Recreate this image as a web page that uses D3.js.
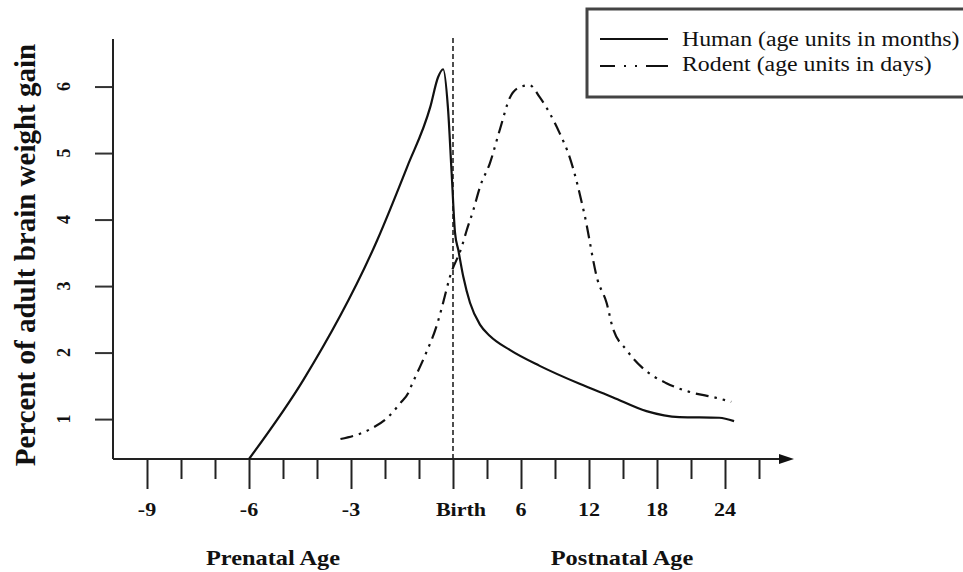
<!DOCTYPE html>
<html>
<head>
<meta charset="utf-8">
<script src="https://cdn.jsdelivr.net/npm/d3@7"></script>
<style>
  body { margin: 0; background: #fff; }
  text { font-family: "Liberation Serif", "Times New Roman", serif; fill: #111; }
</style>
</head>
<body>
<div id="chart"></div>
<script>
// axis positions: prenatal in months (-9..0), postnatal ticks every 3 units up to 27
var xTicks = [-9, -8, -7, -6, -5, -4, -3, -2, -1, 0, 3, 6, 9, 12, 15, 18, 21, 24, 27];
var majorTicks = [-9, -6, -3, 0, 6, 12, 18, 24];
var tickLabels = ["-9", "-6", "-3", "Birth", "6", "12", "18", "24"];
var yTicks = [1, 2, 3, 4, 5, 6];

// human curve (age units in months)
var humanAge  = [-6, -4.4, -2.23, -1.35, -0.67, -0.44, -0.29, -0.15, -0.04, 0.18, 0.47, 0.91, 1.5, 2.38, 3.26, 5.01, 7.65, 11.17, 14.08, 17.07, 19.97, 23.49, 24.8];
var humanGain = [0.4, 1.59, 3.69, 4.79, 5.69, 6.14, 6.26, 5.69, 4.7, 3.8, 3.54, 3.14, 2.75, 2.42, 2.25, 2.04, 1.8, 1.53, 1.33, 1.12, 1.03, 1.02, 0.97];

// rodent curve (age units in days)
var rodentAge  = [-3.31, -2.43, -1.91, -1.55, -1.32, -1.2, -0.82, -0.47, -0.29, -0.09, 0.77, 1.21, 1.79, 2.38, 3.26, 4.13, 5.01, 5.89, 6.77, 7.65, 8.53, 9.41, 10.29, 11.61, 12.76, 13.55, 14.08, 15.31, 16.72, 18.83, 20.85, 23.23, 24.55];
var rodentGain = [0.7, 0.85, 1.03, 1.24, 1.39, 1.53, 1.96, 2.42, 2.75, 3.14, 3.59, 3.84, 4.14, 4.49, 4.85, 5.35, 5.83, 5.99, 6.02, 5.84, 5.6, 5.3, 4.94, 4.07, 3.09, 2.75, 2.38, 2.04, 1.77, 1.54, 1.41, 1.32, 1.26];

var width = 963, height = 572;
// the original figure's lettering is a little wider than the font
var stretch = 1.16;

var svg = d3.select("#chart")
    .append("svg")
    .attr("width", width)
    .attr("height", height);

svg.append("rect").attr("width", width).attr("height", height).attr("fill", "#fff");

var x = d3.scaleLinear()
    .domain([-9, 0, 27])
    .range([147, 453, 759]);

var y = d3.scaleLinear()
    .domain([0.4, 6.7])
    .range([459, 40]);

var originX = 113;

// x axis
var xAxis = svg.append("g")
    .attr("transform", "translate(0," + y(0.4) + ")")
    .call(d3.axisBottom(x).tickValues(xTicks).tickSize(20).tickFormat(""));
xAxis.select(".domain").remove();
xAxis.selectAll(".tick line")
    .attr("stroke", "#222")
    .attr("stroke-width", 2)
    .attr("y2", function(d) { return majorTicks.indexOf(d) >= 0 ? 30 : 20; });

xAxis.append("line")
    .attr("x1", originX).attr("x2", 781)
    .attr("y1", 0).attr("y2", 0)
    .attr("stroke", "#222").attr("stroke-width", 2);
xAxis.append("path")
    .attr("d", "M779,-5L794,0L779,5Z")
    .attr("fill", "#111");

svg.append("g")
    .selectAll("text")
    .data(majorTicks)
    .enter()
    .append("text")
    .attr("transform", function(d) {
        return "translate(" + (x(d) + (d === 0 ? 8 : 0)) + ",516) scale(" + stretch + ",1)";
    })
    .attr("text-anchor", "middle")
    .attr("font-weight", "bold")
    .attr("font-size", 19)
    .text(function(d, i) { return tickLabels[i]; });

// y axis
var yAxis = svg.append("g")
    .attr("transform", "translate(" + originX + ",0)")
    .call(d3.axisLeft(y).tickValues(yTicks).tickSize(18).tickFormat(""));
yAxis.select(".domain").remove();
yAxis.selectAll(".tick line").attr("stroke", "#333").attr("stroke-width", 2);
yAxis.append("line")
    .attr("x1", 0).attr("x2", 0)
    .attr("y1", 39).attr("y2", y(0.4))
    .attr("stroke", "#222").attr("stroke-width", 2);

svg.append("g")
    .selectAll("text")
    .data(yTicks)
    .enter()
    .append("text")
    .attr("transform", function(d) { return "translate(70," + y(d) + ") rotate(-90)"; })
    .attr("text-anchor", "middle")
    .attr("font-weight", "bold")
    .attr("font-size", 18)
    .text(function(d) { return d; });

svg.append("text")
    .attr("transform", "translate(35,255) rotate(-90)")
    .attr("text-anchor", "middle")
    .attr("font-weight", "bold")
    .attr("font-size", 29)
    .text("Percent of adult brain weight gain");

svg.append("text")
    .attr("transform", "translate(273,565) scale(" + stretch + ",1)")
    .attr("text-anchor", "middle")
    .attr("font-weight", "bold")
    .attr("font-size", 21)
    .text("Prenatal Age");

svg.append("text")
    .attr("transform", "translate(622,565) scale(" + stretch + ",1)")
    .attr("text-anchor", "middle")
    .attr("font-weight", "bold")
    .attr("font-size", 21)
    .text("Postnatal Age");

// birth marker
svg.append("line")
    .attr("x1", x(0)).attr("x2", x(0))
    .attr("y1", 38).attr("y2", y(0.4))
    .attr("stroke", "#222")
    .attr("stroke-width", 1.6)
    .attr("stroke-dasharray", "5,3");

// curves
var line = d3.line()
    .x(function(d) { return x(d[0]); })
    .y(function(d) { return y(d[1]); })
    .curve(d3.curveMonotoneX);

svg.append("path")
    .datum(d3.zip(humanAge, humanGain))
    .attr("d", line)
    .attr("fill", "none")
    .attr("stroke", "#111")
    .attr("stroke-width", 2.2);

svg.append("path")
    .datum(d3.zip(rodentAge, rodentGain))
    .attr("d", line)
    .attr("fill", "none")
    .attr("stroke", "#111")
    .attr("stroke-width", 2.2)
    .attr("stroke-dasharray", "13,6,2.5,6,2.5,6");

// legend
var legend = svg.append("g");
legend.append("rect")
    .attr("x", 587).attr("y", 9)
    .attr("width", 420).attr("height", 88)
    .attr("fill", "#fff")
    .attr("stroke", "#444")
    .attr("stroke-width", 3);
legend.append("line")
    .attr("x1", 600).attr("x2", 668).attr("y1", 39).attr("y2", 39)
    .attr("stroke", "#111").attr("stroke-width", 2.2);
legend.append("line")
    .attr("x1", 600).attr("x2", 668).attr("y1", 66).attr("y2", 66)
    .attr("stroke", "#111").attr("stroke-width", 2.2)
    .attr("stroke-dasharray", "15,9,2,9,2,9,22");
legend.append("text")
    .attr("transform", "translate(682,46) scale(1.19,1)")
    .attr("font-size", 20)
    .attr("fill", "#333")
    .text("Human (age units in months)");
legend.append("text")
    .attr("transform", "translate(682,71) scale(1.19,1)")
    .attr("font-size", 20)
    .attr("fill", "#333")
    .text("Rodent (age units in days)");
</script>
</body>
</html>
